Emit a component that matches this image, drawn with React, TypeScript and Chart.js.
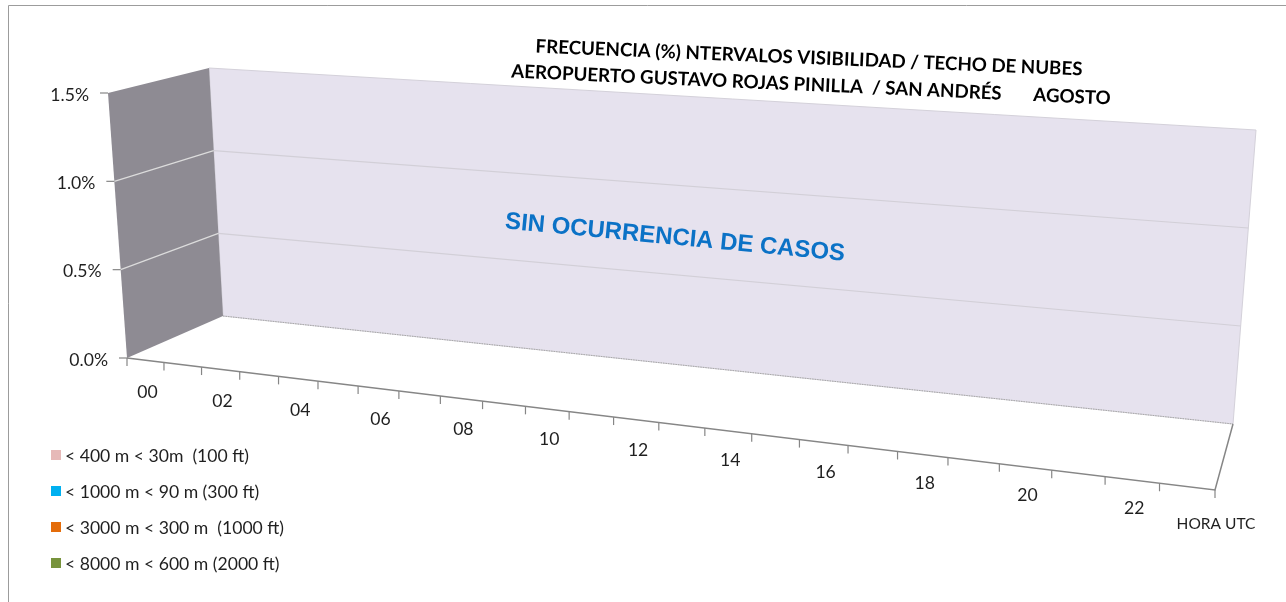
import React, { useEffect, useRef } from 'react';
import { Chart, registerables } from 'chart.js';

Chart.register(...registerables);

// ---------------- data ----------------
const HOURS = ['00', '01', '02', '03', '04', '05', '06', '07', '08', '09', '10', '11',
  '12', '13', '14', '15', '16', '17', '18', '19', '20', '21', '22', '23'];
const HOUR_LABEL_STEP = 2;

const SERIES_LABELS = [
  '< 400 m < 30m  (100 ft)',
  '< 1000 m < 90 m (300 ft)',
  '< 3000 m < 300 m  (1000 ft)',
  '< 8000 m < 600 m (2000 ft)',
];
const SERIES_COLORS = ['#E6B9B8', '#00B0F0', '#E46C0A', '#77933C'];

const VIS_400 = [0, 0, 0, 0, 0, 0, 0, 0, 0, 0, 0, 0, 0, 0, 0, 0, 0, 0, 0, 0, 0, 0, 0, 0];
const VIS_1000 = [0, 0, 0, 0, 0, 0, 0, 0, 0, 0, 0, 0, 0, 0, 0, 0, 0, 0, 0, 0, 0, 0, 0, 0];
const VIS_3000 = [0, 0, 0, 0, 0, 0, 0, 0, 0, 0, 0, 0, 0, 0, 0, 0, 0, 0, 0, 0, 0, 0, 0, 0];
const VIS_8000 = [0, 0, 0, 0, 0, 0, 0, 0, 0, 0, 0, 0, 0, 0, 0, 0, 0, 0, 0, 0, 0, 0, 0, 0];

const Y_TICKS = [0, 0.005, 0.01, 0.015];

const TITLE_LINE_1 = 'FRECUENCIA (%) NTERVALOS VISIBILIDAD / TECHO DE NUBES';
const TITLE_LINE_2 = 'AEROPUERTO GUSTAVO ROJAS PINILLA  / SAN ANDRÉS       AGOSTO';
const NOTE_TEXT = 'SIN OCURRENCIA DE CASOS';
const X_AXIS_TITLE = 'HORA UTC';

// ---------------- 3D frame geometry (screen space) ----------------
const P = (x: number, y: number) => ({ x, y });
const FL = P(127, 358);   // floor front-left
const FR = P(1215, 490);  // floor front-right
const BL = P(223, 316);   // floor back-left
const BR = P(1233, 424);  // floor back-right
const FTL = P(108, 93);   // left wall front-top
const BTL = P(209, 68);   // back wall top-left
const BTR = P(1256, 130); // back wall top-right
const PERSP = 1.236;

const FONT = 'Lato, "Open Sans", sans-serif';
const LABEL_SIZE = 17.6;

type Pt = { x: number; y: number };
const lerp = (a: Pt, b: Pt, t: number): Pt => ({ x: a.x + (b.x - a.x) * t, y: a.y + (b.y - a.y) * t });
const warp = (u: number) => u / (u + PERSP * (1 - u));

const frame3dPlugin = {
  id: 'frame3d',
  beforeDraw(chart: any) {
    const { ctx, chartArea: ca } = chart;
    const xs = chart.scales.x;
    const ys = chart.scales.y;
    const n = chart.data.labels.length;

    const uCenter = (i: number) => (xs.getPixelForValue(i) - ca.left) / ca.width;
    const halfStep = (xs.getPixelForValue(1) - xs.getPixelForValue(0)) / 2 / ca.width;
    const vOf = (val: number) => (ca.bottom - ys.getPixelForValue(val)) / ca.height;

    const front = (u: number) => lerp(FL, FR, warp(u));
    const back = (u: number, v: number) => lerp(lerp(BL, BR, warp(u)), lerp(BTL, BTR, warp(u)), v);
    const left = (w: number, v: number) => lerp(lerp(FL, BL, w), lerp(FTL, BTL, w), v);

    ctx.save();
    ctx.fillStyle = '#ffffff';
    ctx.fillRect(0, 0, chart.width, chart.height);

    // outer frame
    ctx.strokeStyle = '#9c9c9c';
    ctx.lineWidth = 1;
    ctx.beginPath();
    ctx.moveTo(8.5, chart.height);
    ctx.lineTo(8.5, 5.5);
    ctx.lineTo(chart.width, 5.5);
    ctx.stroke();

    const vTop = vOf(Y_TICKS[Y_TICKS.length - 1]);
    const vBottom = vOf(Y_TICKS[0]);

    // back wall
    const bw = [back(0, vBottom), back(1, vBottom), back(1, vTop), back(0, vTop)];
    ctx.beginPath();
    bw.forEach((p, i) => (i ? ctx.lineTo(p.x, p.y) : ctx.moveTo(p.x, p.y)));
    ctx.closePath();
    ctx.fillStyle = '#E6E2EE';
    ctx.fill();
    ctx.strokeStyle = '#D4D1DA';
    ctx.stroke();

    // left wall
    const lw = [left(0, vBottom), left(1, vBottom), left(1, vTop), left(0, vTop)];
    ctx.beginPath();
    lw.forEach((p, i) => (i ? ctx.lineTo(p.x, p.y) : ctx.moveTo(p.x, p.y)));
    ctx.closePath();
    ctx.fillStyle = '#8E8B93';
    ctx.fill();

    // gridlines
    ys.ticks.forEach((t: any) => {
      const v = vOf(t.value);
      if (t.value === Y_TICKS[0] || t.value === Y_TICKS[Y_TICKS.length - 1]) return;
      const a = back(0, v), b = back(1, v);
      ctx.strokeStyle = '#D2CFD7';
      ctx.lineWidth = 1.2;
      ctx.beginPath(); ctx.moveTo(a.x, a.y); ctx.lineTo(b.x, b.y); ctx.stroke();
      const c = left(0, v), d = left(1, v);
      ctx.strokeStyle = '#DCDCDC';
      ctx.beginPath(); ctx.moveTo(c.x, c.y); ctx.lineTo(d.x, d.y); ctx.stroke();
    });

    // back wall bottom edge (dotted)
    ctx.strokeStyle = '#A8A8A8';
    ctx.lineWidth = 1;
    ctx.setLineDash([1.5, 1]);
    ctx.beginPath(); ctx.moveTo(bw[0].x, bw[0].y); ctx.lineTo(bw[1].x, bw[1].y); ctx.stroke();
    ctx.setLineDash([]);

    // floor right edge and front axis line
    ctx.strokeStyle = '#868686';
    ctx.lineWidth = 1.5;
    ctx.beginPath();
    ctx.moveTo(BR.x, BR.y);
    ctx.lineTo(FR.x, FR.y);
    ctx.lineTo(FL.x, FL.y);
    ctx.stroke();

    // x tick marks at category boundaries
    ctx.lineWidth = 1.2;
    for (let i = 0; i <= n; i++) {
      const u = i < n ? uCenter(i) - halfStep : uCenter(n - 1) + halfStep;
      const p = front(u);
      ctx.beginPath(); ctx.moveTo(p.x, p.y); ctx.lineTo(p.x, p.y + 8); ctx.stroke();
    }

    // y tick marks and labels
    ctx.font = `${LABEL_SIZE}px ${FONT}`;
    ctx.fillStyle = '#1F1F1F';
    ctx.textAlign = 'right';
    ctx.textBaseline = 'middle';
    ys.ticks.forEach((t: any) => {
      const p = left(0, vOf(t.value));
      ctx.beginPath(); ctx.moveTo(p.x - 8, p.y); ctx.lineTo(p.x, p.y); ctx.stroke();
      ctx.fillText(`${(t.value * 100).toFixed(1)}%`, p.x - 19, p.y + 2);
    });

    // x labels
    ctx.textAlign = 'center';
    for (let i = 0; i < n; i += HOUR_LABEL_STEP) {
      const u = uCenter(i);
      const p = front(u);
      ctx.fillText(chart.data.labels[i], p.x + 2, p.y + 32 - 4 * warp(u));
    }
    ctx.font = `15.5px ${FONT}`;
    ctx.fillText(X_AXIS_TITLE, FR.x + 1, FR.y + 34);

    // title (rotated text box)
    ctx.fillStyle = '#000000';
    ctx.font = `bold 18.7px ${FONT}`;
    ctx.save();
    ctx.translate(809, 58);
    ctx.rotate(Math.atan2(23, 548));
    ctx.fillText(TITLE_LINE_1, 0, 0);
    ctx.restore();
    ctx.save();
    ctx.translate(811, 85);
    ctx.rotate(Math.atan2(27, 598));
    ctx.fillText(TITLE_LINE_2, 0, 0);
    ctx.restore();

    // note
    ctx.save();
    ctx.font = 'bold 24px "Liberation Sans", Arial, sans-serif';
    ctx.fillStyle = '#0B72C6';
    ctx.translate(675, 238);
    ctx.rotate(Math.atan2(32.5, 340));
    ctx.fillText(NOTE_TEXT, 0, 0);
    ctx.restore();

    // legend
    ctx.font = `${LABEL_SIZE}px ${FONT}`;
    ctx.textAlign = 'left';
    chart.data.datasets.forEach((ds: any, i: number) => {
      const cy = 455 + i * 36;
      ctx.fillStyle = ds.backgroundColor;
      ctx.fillRect(51, cy - 5, 10, 10);
      ctx.fillStyle = '#1F1F1F';
      ctx.fillText(ds.label, 65, cy + 1);
    });

    ctx.restore();
  },
};

export default function App() {
  const ref = useRef<HTMLCanvasElement | null>(null);

  useEffect(() => {
    if (!ref.current) return;
    const series = [VIS_400, VIS_1000, VIS_3000, VIS_8000];
    const chart = new Chart(ref.current, {
      type: 'bar',
      data: {
        labels: HOURS,
        datasets: series.map((d, i) => ({
          label: SERIES_LABELS[i],
          data: d,
          backgroundColor: SERIES_COLORS[i],
          borderWidth: 0,
        })),
      },
      options: {
        responsive: false,
        animation: false,
        events: [],
        layout: { padding: { left: FL.x, right: 1286 - FR.x, top: FTL.y, bottom: 602 - FL.y } },
        plugins: { legend: { display: false }, tooltip: { enabled: false }, title: { display: false } },
        scales: {
          x: { display: false, offset: true, stacked: true },
          y: {
            display: false,
            stacked: true,
            min: Y_TICKS[0],
            max: Y_TICKS[Y_TICKS.length - 1],
            afterBuildTicks: (s: any) => { s.ticks = Y_TICKS.map((v) => ({ value: v })); },
          },
        },
      },
      plugins: [frame3dPlugin],
    });
    return () => chart.destroy();
  }, []);

  return (
    <div style={{ position: 'fixed', left: 0, top: 0, width: 1286, height: 602 }}>
      <canvas ref={ref} width={1286} height={602} style={{ display: 'block' }} />
    </div>
  );
}
